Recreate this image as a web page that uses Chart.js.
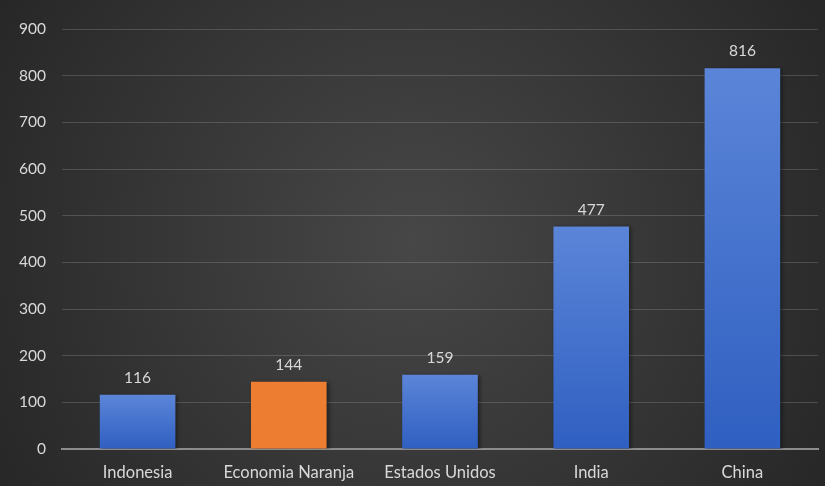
<!DOCTYPE html>
<html lang="es">
<head>
  <meta charset="UTF-8" />
  <title>Economia Naranja</title>
  <script src="https://cdn.jsdelivr.net/npm/chart.js"></script>
  <style>
    html, body { margin: 0; padding: 0; background: #2a2a2a; }
    .wrap { width: 825px; height: 486px; position: relative; }
  </style>
</head>
<body>
<div class="wrap"><canvas id="chart"></canvas></div>

<script>
const categories = ['Indonesia', 'Economia Naranja', 'Estados Unidos', 'India', 'China'];
const values = [116, 144, 159, 477, 816];
const highlight = 'Economia Naranja';

const textColor = '#d9d9d9';
const fontFamily = 'Lato, "Open Sans", sans-serif';

// per-bar vertical gradient, orange for the highlighted one
const barFill = (ctx) => {
  if (categories[ctx.dataIndex] === highlight) return '#ed7d31';
  const chart = ctx.chart;
  if (!chart.chartArea) return '#4472c4';
  const y = chart.scales.y;
  const top = y.getPixelForValue(values[ctx.dataIndex]);
  const bottom = y.getPixelForValue(0);
  const g = chart.ctx.createLinearGradient(0, top, 0, bottom);
  g.addColorStop(0, '#5b85d8');
  g.addColorStop(1, '#2f5fc1');
  return g;
};

const backdrop = {
  id: 'backdrop',
  beforeDraw(chart) {
    const { ctx, width, height } = chart;
    const g = ctx.createRadialGradient(width / 2, height / 2, 0, width / 2, height / 2, width * 0.6);
    g.addColorStop(0, '#474747');
    g.addColorStop(1, '#262626');
    ctx.save();
    ctx.fillStyle = g;
    ctx.fillRect(0, 0, width, height);
    ctx.restore();
  }
};

const barShadow = {
  id: 'barShadow',
  beforeDatasetsDraw(chart) {
    const ctx = chart.ctx;
    ctx.save();
    ctx.shadowColor = 'rgba(0,0,0,0.45)';
    ctx.shadowBlur = 4;
    ctx.shadowOffsetX = 2;
    ctx.shadowOffsetY = 1;
  },
  afterDatasetsDraw(chart) {
    chart.ctx.restore();
  }
};

const valueLabels = {
  id: 'valueLabels',
  afterDatasetsDraw(chart) {
    const ctx = chart.ctx;
    const meta = chart.getDatasetMeta(0);
    ctx.save();
    ctx.fillStyle = textColor;
    ctx.font = '15.5px ' + fontFamily;
    ctx.textAlign = 'center';
    ctx.textBaseline = 'bottom';
    meta.data.forEach((bar, i) => {
      ctx.fillText(String(values[i]), bar.x, bar.y - 9);
    });
    ctx.restore();
  }
};

new Chart(document.getElementById('chart'), {
  type: 'bar',
  data: {
    labels: categories,
    datasets: [{
      data: values,
      backgroundColor: barFill,
      borderWidth: 0,
      barPercentage: 0.5,
      categoryPercentage: 1.0
    }]
  },
  options: {
    responsive: true,
    maintainAspectRatio: false,
    animation: false,
    layout: { padding: { top: 29, right: 7, left: 0, bottom: 0 } },
    plugins: { legend: { display: false }, tooltip: { enabled: false } },
    scales: {
      x: {
        grid: { display: false },
        border: { display: true, color: '#8c8c8c', width: 2 },
        ticks: { color: textColor, font: { family: fontFamily, size: 16.5 }, padding: 6 },
        afterFit(scale) { scale.height = 37; }
      },
      y: {
        min: 0,
        max: 900,
        ticks: { stepSize: 100, color: textColor, font: { family: fontFamily, size: 15.5 }, padding: 16 },
        grid: { color: 'rgba(255,255,255,0.16)', lineWidth: 1, drawTicks: false },
        border: { display: false },
        afterFit(scale) { scale.width = 62; }
      }
    }
  },
  plugins: [backdrop, barShadow, valueLabels]
});
</script>
</body>
</html>
